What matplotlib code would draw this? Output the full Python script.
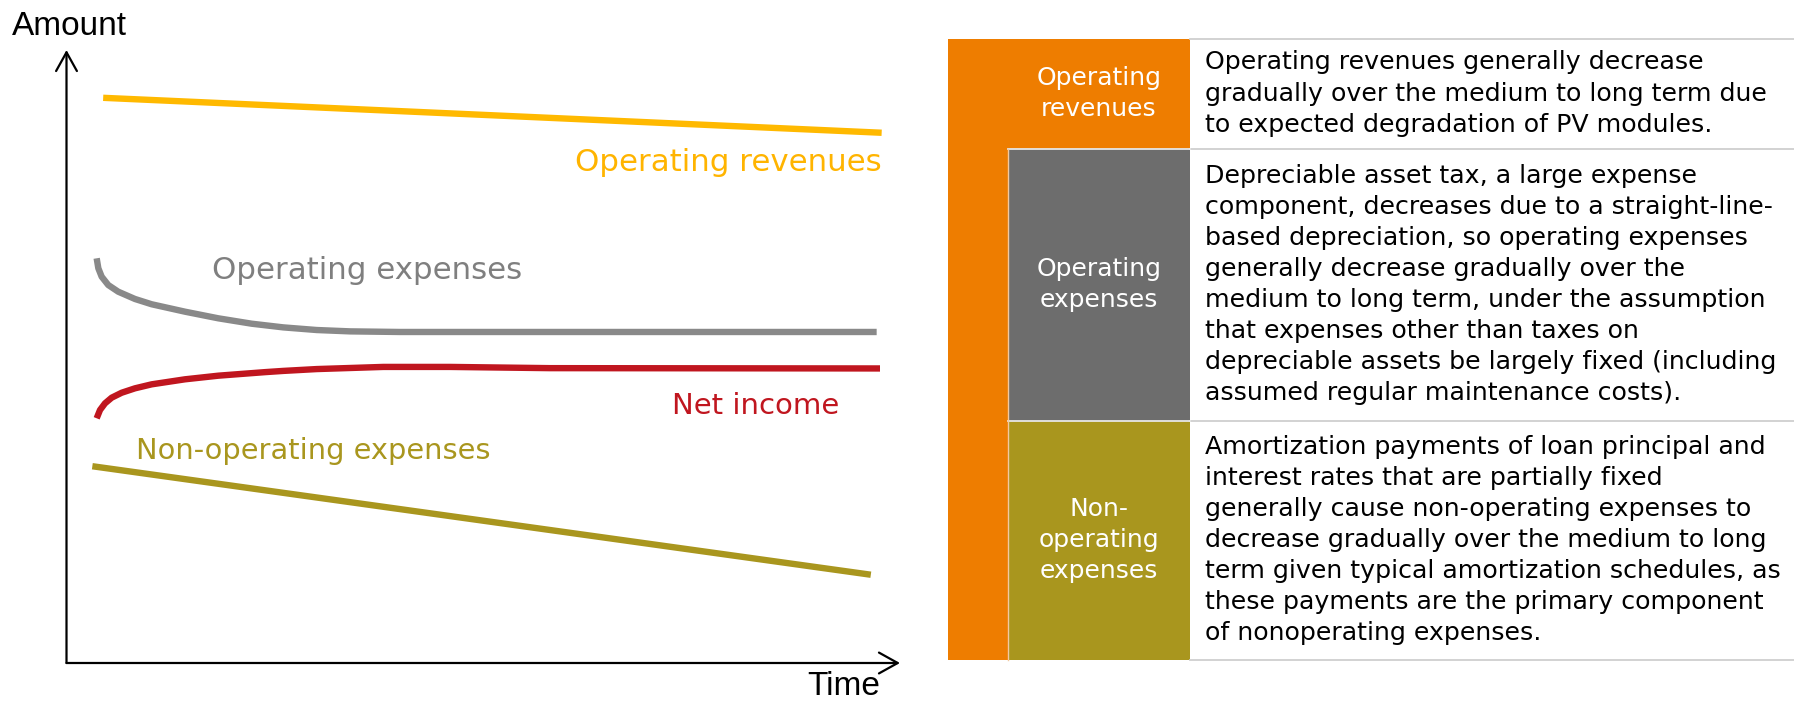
import matplotlib.pyplot as plt
from matplotlib.patches import Rectangle

W, H = 1794, 702  # output size in pixels
DPI = 100

# curves (time and amount in arbitrary units, 0-100)
time_rev = [4.4, 97.8]
revenues = [92.2, 86.5]

time_opex = [3.62, 3.82, 4.22, 5.01, 6.21, 8.22, 10.22, 14.22, 18.21, 22.22, 26.01, 30.02,
             34.01, 40.0, 97.2]
opex = [66.02, 64.39, 63.02, 61.66, 60.57, 59.38, 58.52, 57.31, 56.23, 55.35, 54.75, 54.32,
        54.1, 54.0, 54.0]

time_net = [3.62, 4.02, 4.62, 5.42, 6.62, 8.22, 10.22, 14.22, 18.21, 23.82, 26.01, 30.02,
            38.01, 46.01, 58.0, 97.6]
net_income = [39.92, 41.27, 42.36, 43.28, 44.09, 44.81, 45.46, 46.28, 46.87, 47.45, 47.65, 47.95,
              48.3, 48.3, 48.1, 48.05]

time_nonop = [3.1, 96.5]
nonop = [32.1, 14.4]

series_names = ['Operating revenues', 'Operating expenses', 'Net income', 'Non-operating expenses']
series_colors = ['#FFB900', '#898989', '#C0161F', '#A9961E']
text_colors = ['#FFB400', '#7F7F7F', '#C0161F', '#A9961E']

# table rows: label, colour, description lines
row_labels = ['Operating\nrevenues', 'Operating\nexpenses', 'Non-\noperating\nexpenses']
row_colors = ['#EE7D00', '#6D6D6D', '#A9961E']
row_text = [
    ['Operating revenues generally decrease',
     'gradually over the medium to long term due',
     'to expected degradation of PV modules.'],
    ['Depreciable asset tax, a large expense',
     'component, decreases due to a straight-line-',
     'based depreciation, so operating expenses',
     'generally decrease gradually over the',
     'medium to long term, under the assumption',
     'that expenses other than taxes on',
     'depreciable assets be largely fixed (including',
     'assumed regular maintenance costs).'],
    ['Amortization payments of loan principal and',
     'interest rates that are partially fixed',
     'generally cause non-operating expenses to',
     'decrease gradually over the medium to long',
     'term given typical amortization schedules, as',
     'these payments are the primary component',
     'of nonoperating expenses.'],
]
row_edges = [38.5, 148.5, 420.5, 659.5]  # pixel rows of the table

fig = plt.figure(figsize=(W / DPI, H / DPI), dpi=DPI)


def px_axes(x0, y0, x1, y1):
    # axes placed by pixel box (top-left origin)
    return fig.add_axes([x0 / W, 1 - y1 / H, (x1 - x0) / W, (y1 - y0) / H])


# ---- left: schematic chart ----
ax = px_axes(66.5, 50, 900, 663)
ax.set_xlim(0, 100)
ax.set_ylim(0, 100)
ax.axis('off')

lw = 4.6
style = dict(lw=lw, solid_capstyle='butt', solid_joinstyle='round')
ax.plot(time_rev, revenues, color=series_colors[0], **style)
ax.plot(time_opex, opex, color=series_colors[1], **style)
ax.plot(time_net, net_income, color=series_colors[2], **style)
ax.plot(time_nonop, nonop, color=series_colors[3], **style)

ax.text(97.8, 81.6, series_names[0], color=text_colors[0], fontsize=22.2, ha='right', va='center')
ax.text(17.5, 64.1, series_names[1], color=text_colors[1], fontsize=22.2, ha='left', va='center')
ax.text(92.7, 41.9, series_names[2], color=text_colors[2], fontsize=21, ha='right', va='center')
ax.text(8.3, 34.6, series_names[3], color=text_colors[3], fontsize=20.8, ha='left', va='center')

# axis arrows
arrow = dict(arrowstyle='->,head_length=1.35,head_width=0.75', lw=1.6, color='black',
             shrinkA=0, shrinkB=0)
ax.annotate('', xy=(0, 1), xytext=(0, 0), xycoords='axes fraction', arrowprops=arrow,
            annotation_clip=False)
ax.annotate('', xy=(1, 0), xytext=(0, 0), xycoords='axes fraction', arrowprops=arrow,
            annotation_clip=False)

fig.text(12 / W, 1 - 35 / H, 'Amount', fontsize=24, family='Liberation Sans',
         ha='left', va='baseline')
fig.text(807 / W, 0, 'Time', fontsize=24, family='Liberation Sans',
         ha='left', va='bottom')

# ---- right: description table ----
tb = px_axes(940, 0, 1794, 702)
tb.set_xlim(940, 1794)
tb.set_ylim(702, 0)
tb.axis('off')

x_out, x_in, x_txt = 948, 1008, 1190

# orange outer band: first row full width, then a narrow column down the side
tb.add_patch(Rectangle((x_out, row_edges[0]), x_txt - x_out, row_edges[1] - row_edges[0],
                       color=row_colors[0], lw=0))
tb.add_patch(Rectangle((x_out, row_edges[1]), x_in - x_out, row_edges[3] - row_edges[1],
                       color=row_colors[0], lw=0))
for i in (1, 2):
    tb.add_patch(Rectangle((x_in, row_edges[i]), x_txt - x_in, row_edges[i + 1] - row_edges[i],
                           color=row_colors[i], lw=0))

# cell borders
for y in row_edges:
    tb.plot([x_txt, 1794], [y, y], color='#CFCFCF', lw=1.3)
for y in row_edges[1:3]:
    tb.plot([x_in, x_txt], [y, y], color='#E6E6E6', lw=1.3)
tb.plot([x_in, x_in], [row_edges[1], row_edges[3]], color='#F2C9A0', lw=1.0)

for i in range(3):
    yc = (row_edges[i] + row_edges[i + 1]) / 2
    tb.text((x_in + x_txt) / 2, yc, row_labels[i], color='white', fontsize=18,
            ha='center', va='center', linespacing=1.37)
    tb.text(1205, yc, '\n'.join(row_text[i]), color='black', fontsize=18.2,
            ha='left', va='center', linespacing=1.37)

fig.savefig('out.png', dpi=DPI)
